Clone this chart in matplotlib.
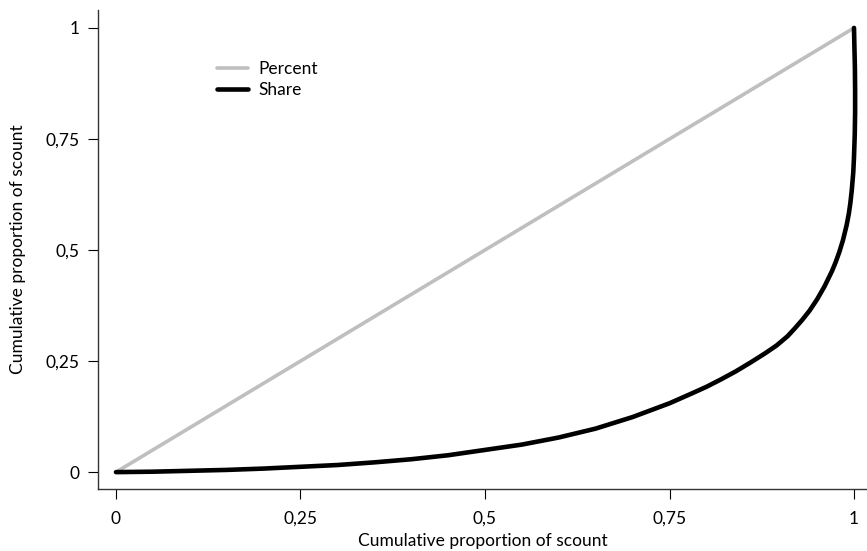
import matplotlib
matplotlib.use("Agg")
import matplotlib.pyplot as plt
from matplotlib.ticker import FuncFormatter

# cumulative shares (Lorenz curve)
pop_share = [0.0, 0.05, 0.10, 0.15, 0.20, 0.25, 0.30, 0.35, 0.40, 0.45,
             0.50, 0.55, 0.60, 0.65, 0.70, 0.75, 0.78, 0.80, 0.82, 0.84,
             0.86, 0.88, 0.895, 0.91, 0.92, 0.93, 0.94, 0.95, 0.96, 0.965,
             0.97, 0.975, 0.98, 0.985, 0.99, 0.993, 0.995, 0.997, 0.999,
             1.000, 1.001, 1.0015, 1.0015, 1.0012, 1.0005, 1.000]
cum_share = [0.0, 0.001, 0.003, 0.005, 0.008, 0.012, 0.016, 0.022, 0.029, 0.038,
             0.050, 0.062, 0.078, 0.098, 0.124, 0.155, 0.177, 0.192, 0.209, 0.227,
             0.247, 0.268, 0.285, 0.306, 0.324, 0.343, 0.364, 0.389, 0.418, 0.435,
             0.452, 0.472, 0.495, 0.522, 0.556, 0.582, 0.605, 0.635, 0.675,
             0.71, 0.76, 0.81, 0.86, 0.91, 0.96, 1.0]
equality_x = [0.0, 1.0]
equality_y = [0.0, 1.0]
ticks = [0, 0.25, 0.5, 0.75, 1]

plt.rcParams['font.family'] = ['Lato', 'DejaVu Sans']

fig = plt.figure(figsize=(8.67, 5.51), dpi=100)
ax = fig.add_axes([0.113, 0.1125, 0.887, 0.8695])

ax.plot(equality_x, equality_y, color='#bfbfbf', lw=2.6, label='Percent',
        solid_capstyle='round')
ax.plot(pop_share, cum_share, color='black', lw=3.3, label='Share',
        solid_capstyle='round', solid_joinstyle='round')

ax.set_xlim(-0.0244, 1.0176)
ax.set_ylim(-0.038, 1.0405)
ax.set_xticks(ticks)
ax.set_yticks(ticks)
fmt = FuncFormatter(lambda v, p: ('%g' % v).replace('.', ','))
ax.xaxis.set_major_formatter(fmt)
ax.yaxis.set_major_formatter(fmt)
ax.tick_params(direction='out', length=7.5, width=0.8, labelsize=12.5)
ax.tick_params(axis='x', pad=8)
ax.tick_params(axis='y', pad=6)

for s in ['top', 'right']:
    ax.spines[s].set_visible(False)
for s in ['left', 'bottom']:
    ax.spines[s].set_linewidth(1.0)
    ax.spines[s].set_color('#333333')

ax.set_xlabel('Cumulative proportion of scount', fontsize=12.5, labelpad=5)
ax.set_ylabel('Cumulative proportion of scount', fontsize=12.5, labelpad=14)

ax.legend(loc='upper left', bbox_to_anchor=(0.155, 0.893), frameon=False,
          fontsize=12.5, handlelength=1.8, handletextpad=0.55,
          borderpad=0, borderaxespad=0, labelspacing=0.3)

fig.savefig('out.png', dpi=100)
plt.close(fig)
